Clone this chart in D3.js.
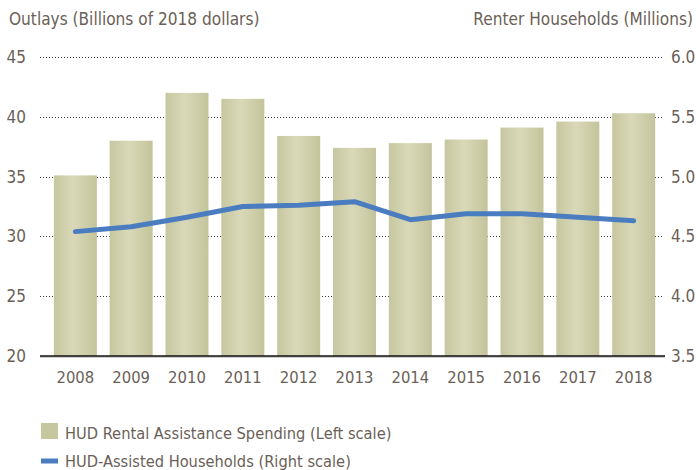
<!DOCTYPE html>
<html>
<head>
<meta charset="utf-8">
<script src="https://cdn.jsdelivr.net/npm/d3@7"></script>
<style>
  body { margin: 0; background: #fff; }
  text { font-family: "Liberation Sans Narrow", "DejaVu Sans Condensed", sans-serif; fill: #6b5f58; }
</style>
</head>
<body>
<div id="chart"></div>
<script>
// data
var years = ["2008", "2009", "2010", "2011", "2012", "2013", "2014", "2015", "2016", "2017", "2018"];
var spending = [35.1, 38.0, 42.0, 41.5, 38.4, 37.4, 37.8, 38.1, 39.1, 39.6, 40.3];
var households = [4.54, 4.58, 4.66, 4.75, 4.76, 4.79, 4.64, 4.69, 4.69, 4.66, 4.63];
var leftTicks = [20, 25, 30, 35, 40, 45];
var rightTicks = [3.5, 4.0, 4.5, 5.0, 5.5, 6.0];

var svgWidth = 696;
var svgHeight = 470;

var plot = { left: 40, right: 665, top: 57, bottom: 356 };

var svg = d3.select("#chart")
  .append("svg")
  .attr("width", svgWidth)
  .attr("height", svgHeight);

// bar gradient: darker edges, light center
var grad = svg.append("defs").append("linearGradient")
  .attr("id", "barGrad")
  .attr("x1", "0%").attr("x2", "100%").attr("y1", "0%").attr("y2", "0%");
grad.append("stop").attr("offset", "0%").attr("stop-color", "#c6c69f");
grad.append("stop").attr("offset", "45%").attr("stop-color", "#d9d9b9");
grad.append("stop").attr("offset", "100%").attr("stop-color", "#c3c39b");

// scales
var x = d3.scaleBand()
  .domain(years)
  .range([41, 668])
  .paddingInner(0.23)
  .paddingOuter(0.23);

var yLeft = d3.scaleLinear()
  .domain([20, 45])
  .range([plot.bottom, plot.top]);

var yRight = d3.scaleLinear()
  .domain([3.5, 6.0])
  .range([plot.bottom, plot.top]);

// dotted gridlines
svg.append("g")
  .selectAll("line")
  .data(leftTicks.filter(d => d > 20))
  .enter()
  .append("line")
  .attr("x1", plot.left)
  .attr("x2", 663)
  .attr("y1", d => Math.round(yLeft(d)) + 0.5)
  .attr("y2", d => Math.round(yLeft(d)) + 0.5)
  .attr("stroke", "#3a3a3a")
  .attr("stroke-width", 1)
  .attr("stroke-dasharray", "1,2");

// bars
svg.append("g")
  .selectAll("rect")
  .data(spending)
  .enter()
  .append("rect")
  .attr("x", (d, i) => x(years[i]))
  .attr("width", x.bandwidth())
  .attr("y", d => yLeft(d))
  .attr("height", d => yLeft(20) - yLeft(d))
  .attr("fill", "url(#barGrad)");

// baseline
svg.append("line")
  .attr("x1", plot.left)
  .attr("x2", plot.right)
  .attr("y1", plot.bottom + 1)
  .attr("y2", plot.bottom + 1)
  .attr("stroke", "#bdbdbd")
  .attr("stroke-width", 1.5);
svg.append("line")
  .attr("x1", plot.left)
  .attr("x2", plot.right)
  .attr("y1", plot.bottom)
  .attr("y2", plot.bottom)
  .attr("stroke", "#111")
  .attr("stroke-width", 1.5);

// household line
var line = d3.line()
  .x((d, i) => x(years[i]) + x.bandwidth() / 2)
  .y(d => yRight(d));

svg.append("path")
  .datum(households)
  .attr("d", line)
  .attr("fill", "none")
  .attr("stroke", "#4a7cc0")
  .attr("stroke-width", 5)
  .attr("stroke-linejoin", "round")
  .attr("stroke-linecap", "round");

// left axis labels
var leftAxis = d3.axisLeft(yLeft).tickValues(leftTicks).tickSize(0).tickPadding(0);
svg.append("g")
  .attr("transform", "translate(26, 0)")
  .call(leftAxis)
  .call(g => g.select(".domain").remove())
  .selectAll("text")
  .attr("font-size", 17)
  .attr("fill", "#6b5f58");

// right axis labels
var rightAxis = d3.axisRight(yRight).tickValues(rightTicks).tickFormat(d3.format(".1f")).tickSize(0).tickPadding(0);
svg.append("g")
  .attr("transform", "translate(671, 0)")
  .call(rightAxis)
  .call(g => g.select(".domain").remove())
  .selectAll("text")
  .attr("font-size", 17)
  .attr("fill", "#6b5f58");

// x axis labels
var bottomAxis = d3.axisBottom(x).tickSize(0).tickPadding(0);
svg.append("g")
  .attr("transform", "translate(0, 371)")
  .call(bottomAxis)
  .call(g => g.select(".domain").remove())
  .selectAll("text")
  .attr("font-size", 16.5)
  .attr("fill", "#6b5f58");

// axis titles
svg.append("text")
  .attr("x", 9)
  .attr("y", 25)
  .attr("font-size", 17.1)
  .text("Outlays (Billions of 2018 dollars)");

svg.append("text")
  .attr("x", 693)
  .attr("y", 25)
  .attr("text-anchor", "end")
  .attr("font-size", 17.1)
  .text("Renter Households (Millions)");

// legend
var legend = svg.append("g");
legend.append("rect")
  .attr("x", 41)
  .attr("y", 423)
  .attr("width", 17)
  .attr("height", 16)
  .attr("fill", "#c6c69f");
legend.append("text")
  .attr("x", 65)
  .attr("y", 439)
  .attr("font-size", 16.3)
  .text("HUD Rental Assistance Spending (Left scale)");

legend.append("line")
  .attr("x1", 41)
  .attr("x2", 58)
  .attr("y1", 461)
  .attr("y2", 461)
  .attr("stroke", "#4a7cc0")
  .attr("stroke-width", 5);
legend.append("text")
  .attr("x", 65)
  .attr("y", 467)
  .attr("font-size", 16.3)
  .text("HUD-Assisted Households (Right scale)");
</script>
</body>
</html>
